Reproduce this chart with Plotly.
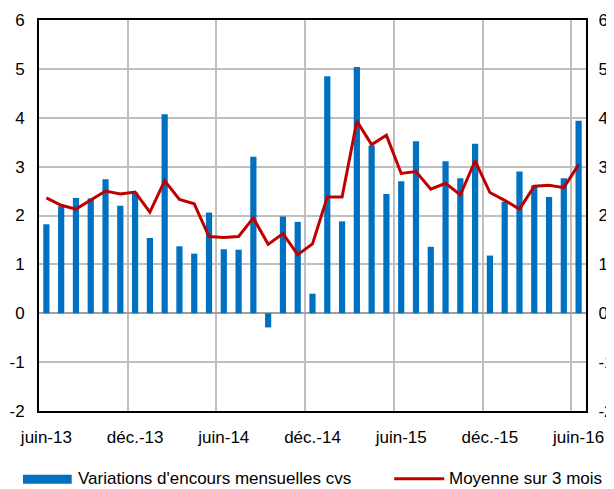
import plotly.graph_objects as go

# ---- data ----
months = [
    "juin-13", "juil.-13", "août-13", "sept.-13", "oct.-13", "nov.-13", "déc.-13",
    "janv.-14", "févr.-14", "mars-14", "avr.-14", "mai-14", "juin-14", "juil.-14",
    "août-14", "sept.-14", "oct.-14", "nov.-14", "déc.-14", "janv.-15", "févr.-15",
    "mars-15", "avr.-15", "mai-15", "juin-15", "juil.-15", "août-15", "sept.-15",
    "oct.-15", "nov.-15", "déc.-15", "janv.-16", "févr.-16", "mars-16", "avr.-16",
    "mai-16", "juin-16",
]
variations = [1.82, 2.19, 2.36, 2.35, 2.74, 2.20, 2.47, 1.54, 4.07, 1.37,
              1.22, 2.06, 1.31, 1.30, 3.20, -0.29, 1.98, 1.87, 0.40, 4.85,
              1.88, 5.04, 3.43, 2.44, 2.70, 3.52, 1.36, 3.11, 2.76, 3.47,
              1.18, 2.28, 2.90, 2.62, 2.38, 2.76, 3.94]
moyenne_3m = [2.36, 2.21, 2.13, 2.31, 2.50, 2.44, 2.48, 2.07, 2.71, 2.33,
              2.24, 1.57, 1.55, 1.57, 1.95, 1.41, 1.63, 1.20, 1.42, 2.38,
              2.38, 3.93, 3.45, 3.64, 2.86, 2.90, 2.54, 2.66, 2.42, 3.12,
              2.47, 2.31, 2.13, 2.60, 2.62, 2.57, 3.04]
tick_labels = ["juin-13", "déc.-13", "juin-14", "déc.-14", "juin-15", "déc.-15", "juin-16"]
y_ticks = [-2, -1, 0, 1, 2, 3, 4, 5, 6]
y_tick_text = ["-2", "-1", "0", "1", "2", "3", "4", "5", "6"]
name_bars = "Variations d'encours mensuelles cvs"
name_line = "Moyenne sur 3 mois"

# ---- styles / layout ----
# the html body has an 8px default margin, so the figure is sized to end at the window edge
OFF = 8
W, H = 614 - OFF, 489 - OFF
L, R, T, B = 39 - OFF, 28.3, 20 - OFF, 78.3
pw, ph = W - L - R, H - T - B
BLUE = "#0070C0"
RED = "#C00000"
GRID = "#BFBFBF"
FONT = dict(family="Liberation Sans, Arial, sans-serif", size=17, color="#000000")


def px(xp):
    """window pixel x -> paper fraction"""
    return (xp - OFF - L) / pw


def py(yp):
    """window pixel y -> paper fraction"""
    return (H - B - (yp - OFF)) / ph


n = len(months)
xpos = list(range(n))
tick_pos = [months.index(t) for t in tick_labels]
boundaries = [p - 0.5 for p in tick_pos[1:]]

fig = go.Figure()
fig.add_trace(go.Bar(x=xpos, y=variations, name=name_bars,
                     marker=dict(color=BLUE, line=dict(width=0)), showlegend=False))
fig.add_trace(go.Scatter(x=xpos, y=moyenne_3m, name=name_line, mode="lines",
                         line=dict(color=RED, width=3), showlegend=False,
                         yaxis="y2"))

fig.update_layout(
    width=W, height=H,
    margin=dict(l=L, r=R, t=T, b=B, pad=0),
    paper_bgcolor="white", plot_bgcolor="white",
    font=FONT,
    bargap=0.58,
    xaxis=dict(type="linear", range=[-0.5, n - 0.5], tickmode="array",
               tickvals=tick_pos, ticktext=tick_labels, showgrid=False,
               zeroline=False, ticks="outside", ticklen=10,
               tickcolor="rgba(0,0,0,0)", showline=True, mirror=True,
               linecolor="black", linewidth=2, tickangle=0, automargin=False,
               minor=dict(tickmode="array", tickvals=boundaries, showgrid=True,
                          gridcolor=GRID, gridwidth=1.5, ticks="")),
    yaxis=dict(range=[-2, 6], tickmode="array", tickvals=y_ticks,
               ticktext=y_tick_text,
               showgrid=True, gridcolor=GRID, gridwidth=1.5,
               zeroline=True, zerolinecolor="#A0A0A0", zerolinewidth=2,
               ticks="outside", ticklen=9, tickcolor="rgba(0,0,0,0)",
               showline=True, mirror=True, linecolor="black", linewidth=2,
               automargin=False),
    yaxis2=dict(overlaying="y", matches="y", anchor="x", side="right",
                range=[-2, 6], tickmode="array", tickvals=y_ticks,
                ticktext=y_tick_text, showgrid=False, zeroline=False,
                ticks="outside", ticklen=8, tickcolor="rgba(0,0,0,0)",
                showline=False, automargin=False),
)

# custom legend (wide swatches like the original)
fig.add_shape(type="rect", xref="paper", yref="paper",
              x0=px(23), x1=px(71.7), y0=py(483.3), y1=py(474.3),
              fillcolor=BLUE, line=dict(width=0))
fig.add_shape(type="line", xref="paper", yref="paper",
              x0=px(394), x1=px(444), y0=py(478.3), y1=py(478.3),
              line=dict(color=RED, width=3))
fig.add_annotation(xref="paper", yref="paper", x=px(75.5), y=py(478.5),
                   xanchor="left", yanchor="middle", text=name_bars,
                   showarrow=False, font=FONT)
fig.add_annotation(xref="paper", yref="paper", x=px(446.5), y=py(478.5),
                   xanchor="left", yanchor="middle", text=name_line,
                   showarrow=False, font=FONT)

fig.write_html("out.html")
